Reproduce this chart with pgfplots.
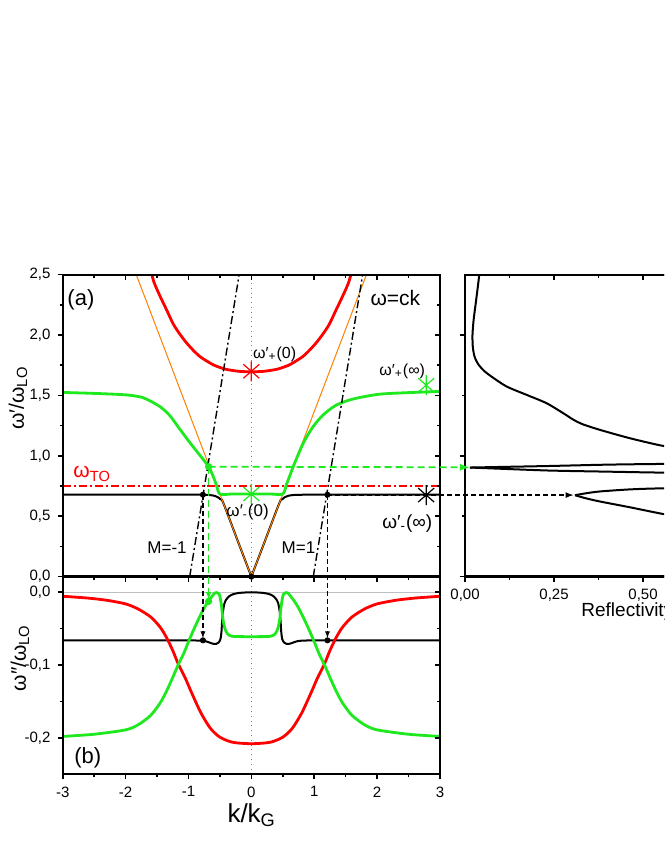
\documentclass[border=0pt]{standalone}
\usepackage{fontspec}
\setmainfont{Liberation Sans}
\usepackage{pgfplots}
\pgfplotsset{compat=1.18}
\usetikzlibrary{arrows.meta}

\definecolor{cred}{RGB}{255,0,0}
\definecolor{cgreen}{RGB}{30,232,30}
\definecolor{corange}{RGB}{255,128,0}

% origin-like star: vertical bar + x
\pgfdeclareplotmark{ostar}{%
  \pgfpathmoveto{\pgfqpoint{0pt}{\pgfplotmarksize}}%
  \pgfpathlineto{\pgfqpoint{0pt}{-\pgfplotmarksize}}%
  \pgfpathmoveto{\pgfqpoint{-0.8\pgfplotmarksize}{-0.7\pgfplotmarksize}}%
  \pgfpathlineto{\pgfqpoint{0.8\pgfplotmarksize}{0.7\pgfplotmarksize}}%
  \pgfpathmoveto{\pgfqpoint{-0.8\pgfplotmarksize}{0.7\pgfplotmarksize}}%
  \pgfpathlineto{\pgfqpoint{0.8\pgfplotmarksize}{-0.7\pgfplotmarksize}}%
  \pgfusepathqstroke}

\pgfplotsset{
  every axis/.append style={scale only axis, anchor=south west, clip mode=individual,
    axis line style={line width=1.1pt},
    tick style={black, line width=0.8pt},
    major tick length=2.6pt, minor tick length=1.5pt,
    tick label style={font=\fontsize{7.5}{9}\selectfont,
      /pgf/number format/assume math mode=true}},
  lab/.style={tick align=outside, xtick pos=left, ytick pos=left},
  mir/.style={tick align=inside, xtick pos=right, ytick pos=right,
    xticklabels={}, yticklabels={}},
  comma1/.style={yticklabel style={/pgf/number format/.cd, fixed, fixed zerofill,
    precision=1, use comma}},
  sm/.style={smooth, tension=0.45},
  pA/.style={at={(31.35pt,141.7pt)}, width=188.65pt, height=150.95pt,
    xmin=-3, xmax=3, ymin=0, ymax=2.5,
    xtick={-3,-2,-1,0,1,2,3}, minor x tick num=1,
    ytick={0,0.5,1,1.5,2,2.5}, minor y tick num=1},
  pB/.style={at={(31.35pt,42.85pt)}, width=188.65pt, height=98.85pt,
    xmin=-3, xmax=3, ymin=-0.25, ymax=0.0215,
    xtick={-3,-2,-1,0,1,2,3}, minor x tick num=1,
    ytick={-0.2,-0.1,0}, minor y tick num=1},
  pR/.style={at={(232.5pt,141.7pt)}, width=178pt, height=150.95pt,
    xmin=0, xmax=1, ymin=0, ymax=2.5,
    xtick={0,0.25,0.5,0.75,1}, minor x tick num=1,
    ytick={0,1,2}, minor y tick num=1, yticklabels={}},
}

\begin{document}
\begin{tikzpicture}
\useasboundingbox (0,0) rectangle (332pt,430pt);
\clip (0,0) rectangle (332pt,430pt);

% ---------------- panel (a): real part ----------------
\begin{axis}[pA, lab, comma1, xticklabels={}]
  \addplot[gray, dotted, line width=0.4pt] coordinates {(0,0) (0,2.5)};
  \addplot[cred, line width=0.7pt, dash pattern=on 4pt off 1.5pt on 1pt off 1.5pt]
    coordinates {(-3,0.75) (3,0.75)};
  % lower branch (two halves, sharp at k=0)
  \addplot[black, line width=1pt, sm] coordinates {
    (-3,0.678) (-1.5,0.678) (-0.9,0.678) (-0.72,0.677) (-0.64,0.674) (-0.58,0.668)
    (-0.53,0.657) (-0.49,0.64) (-0.45,0.615) (-0.2,0.273) (0,0)};
  \addplot[black, line width=1pt, sm] coordinates {
    (0,0) (0.2,0.273) (0.45,0.615) (0.49,0.64)
    (0.53,0.657) (0.58,0.668) (0.64,0.674) (0.72,0.677) (0.9,0.678) (1.5,0.678) (3,0.678)};
  % light line
  \addplot[corange, line width=0.5pt] coordinates {(-1.83,2.5) (0,0) (1.83,2.5)};
  % middle branch
  \addplot[cgreen, line width=1.4pt, sm] coordinates {
    (-3,1.525) (-2.5,1.517) (-2.0,1.505) (-1.72,1.481) (-1.46,1.41) (-1.3,1.335)
    (-1.15,1.23) (-1.0,1.125) (-0.88,1.045) (-0.78,0.98) (-0.68,0.91) (-0.62,0.847)
    (-0.56,0.765) (-0.5,0.684) (-0.3,0.684) (0,0.684) (0.3,0.684) (0.5,0.684) (0.56,0.765)
    (0.62,0.847) (0.662,0.905)
    (0.74,1.005) (0.821,1.10) (0.90,1.175) (0.98,1.24) (1.06,1.293) (1.14,1.338)
    (1.25,1.385) (1.35,1.42) (1.5,1.452) (1.67,1.477) (1.9,1.50) (2.09,1.513)
    (2.52,1.524) (3.0,1.533)};
  % upper branch
  \addplot[cred, line width=1.4pt, sm] coordinates {
    (-1.62,2.58) (-1.55,2.44) (-1.45,2.32) (-1.34,2.20) (-1.24,2.09) (-1.14,2.01)
    (-1.03,1.935) (-0.92,1.872) (-0.82,1.823) (-0.70,1.782) (-0.60,1.752) (-0.50,1.732)
    (-0.40,1.716) (-0.20,1.700) (0,1.696) (0.20,1.700) (0.40,1.716) (0.50,1.732)
    (0.60,1.752) (0.70,1.782) (0.82,1.823) (0.92,1.872) (1.03,1.935) (1.14,2.01)
    (1.24,2.09) (1.34,2.20) (1.45,2.32) (1.55,2.44) (1.62,2.58)};
  % Bragg-shifted light lines
  \addplot[black, line width=0.7pt, dash pattern=on 4pt off 1.5pt on 1pt off 1.5pt]
    coordinates {(-0.98,0) (-0.194,2.5)};
  \addplot[black, line width=0.7pt, dash pattern=on 4pt off 1.5pt on 1pt off 1.5pt]
    coordinates {(0.985,0) (1.77,2.5)};
  % limiting frequencies
  \addplot[cred, only marks, mark=ostar, mark size=5pt, line width=0.6pt] coordinates {(0,1.70)};
  \addplot[cgreen, only marks, mark=ostar, mark size=5pt, line width=0.6pt] coordinates {(2.78,1.585) (0,0.684)};
  \addplot[black, only marks, mark=ostar, mark size=5pt, line width=0.6pt] coordinates {(2.78,0.675)};
  % points
  \addplot[black, only marks, mark=*, mark size=1.3pt] coordinates {(-0.77,0.678) (1.21,0.678) (0,0)};
  \addplot[cgreen, only marks, mark=*, mark size=1.6pt] coordinates {(-0.68,0.91)};
  \coordinate (gA) at (axis cs:-0.68,0.91);
  \coordinate (bAL) at (axis cs:-0.77,0.678);
  \coordinate (bAR) at (axis cs:1.21,0.675);
  \node[font=\fontsize{11}{12}\selectfont] at (axis cs:-2.71,2.29) {(a)};
  \node[font=\fontsize{10.5}{12}\selectfont] at (axis cs:2.29,2.31) {ω=ck};
  \node[cred, font=\fontsize{10.5}{12}\selectfont] at (axis cs:-2.53,0.85) {ω\textsubscript{TO}};
  \node[font=\fontsize{8}{9}\selectfont] at (axis cs:0.37,1.84) {ω′\textsubscript{+}(0)};
  \node[font=\fontsize{8}{9}\selectfont] at (axis cs:2.40,1.70) {ω′\textsubscript{+}(∞)};
  \node[font=\fontsize{8.5}{9}\selectfont] at (axis cs:-0.06,0.535) {ω′\textsubscript{-}(0)};
  \node[font=\fontsize{9.5}{10}\selectfont] at (axis cs:2.48,0.435) {ω′\textsubscript{-}(∞)};
  \node[font=\fontsize{8.5}{9}\selectfont] at (axis cs:-1.34,0.236) {M=-1};
  \node[font=\fontsize{8.5}{9}\selectfont] at (axis cs:0.75,0.236) {M=1};
\end{axis}
\begin{axis}[pA, mir]
\end{axis}

% ---------------- panel (b): imaginary part ----------------
\begin{axis}[pB, lab, comma1]
  \addplot[gray, dotted, line width=0.4pt] coordinates {(0,-0.25) (0,0.0215)};
  \addplot[gray!50, line width=0.6pt] coordinates {(-3,0) (3,0)};
  \addplot[black, line width=1pt, sm] coordinates {
    (-3,-0.066) (-1.2,-0.066) (-0.8,-0.0665) (-0.7,-0.068) (-0.62,-0.0705) (-0.56,-0.071)
    (-0.52,-0.069) (-0.49,-0.064) (-0.475,-0.054) (-0.465,-0.040) (-0.45,-0.026)
    (-0.43,-0.016) (-0.40,-0.010) (-0.36,-0.006) (-0.3,-0.003) (-0.2,-0.001) (0,0)
    (0.2,-0.001) (0.3,-0.003) (0.36,-0.006) (0.40,-0.010) (0.43,-0.016) (0.45,-0.026)
    (0.465,-0.040) (0.475,-0.054) (0.49,-0.064) (0.52,-0.069) (0.56,-0.071)
    (0.62,-0.0705) (0.7,-0.068) (0.8,-0.0665) (1.2,-0.066) (3,-0.066)};
  \addplot[cred, line width=1.4pt, sm] coordinates {
    (-3.0,-0.0055) (-2.6,-0.008) (-2.3,-0.011) (-2.0,-0.016) (-1.8,-0.023) (-1.6,-0.034)
    (-1.45,-0.048) (-1.35,-0.062) (-1.25,-0.080) (-1.16,-0.099) (-1.05,-0.118)
    (-0.95,-0.138) (-0.8,-0.166) (-0.65,-0.187) (-0.5,-0.199) (-0.3,-0.206) (0,-0.208)
    (0.3,-0.206) (0.5,-0.199) (0.65,-0.187) (0.8,-0.166) (0.95,-0.138) (1.05,-0.118)
    (1.16,-0.099) (1.25,-0.080) (1.35,-0.062) (1.45,-0.048) (1.6,-0.034) (1.8,-0.023)
    (2.0,-0.016) (2.3,-0.011) (2.6,-0.008) (3.0,-0.0055)};
  \addplot[cgreen, line width=1.4pt, sm] coordinates {
    (-3.0,-0.198) (-2.5,-0.195) (-2.0,-0.189) (-1.8,-0.182) (-1.6,-0.169) (-1.45,-0.152)
    (-1.35,-0.136) (-1.25,-0.117) (-1.16,-0.099) (-1.08,-0.085) (-1.0,-0.068)
    (-0.92,-0.052) (-0.84,-0.037) (-0.76,-0.023) (-0.69,-0.013) (-0.62,-0.005)
    (-0.58,-0.001) (-0.55,-0.0005) (-0.51,-0.003) (-0.49,-0.010) (-0.47,-0.022)
    (-0.45,-0.038) (-0.42,-0.050) (-0.38,-0.057) (-0.30,-0.0605) (0,-0.061)
    (0.30,-0.0605) (0.38,-0.057) (0.42,-0.050) (0.45,-0.038) (0.47,-0.022)
    (0.49,-0.010) (0.51,-0.003) (0.55,-0.0005) (0.58,-0.001) (0.62,-0.005)
    (0.69,-0.013) (0.76,-0.023) (0.84,-0.037) (0.92,-0.052) (1.0,-0.068)
    (1.08,-0.085) (1.16,-0.099) (1.25,-0.117) (1.35,-0.136) (1.45,-0.152)
    (1.6,-0.169) (1.8,-0.182) (2.0,-0.189) (2.5,-0.195) (3.0,-0.198)};
  \addplot[black, only marks, mark=*, mark size=1.3pt] coordinates {(-0.77,-0.066) (1.21,-0.066)};
  \addplot[cgreen, only marks, mark=*, mark size=1.6pt] coordinates {(-0.68,-0.0125)};
  \coordinate (gB) at (axis cs:-0.68,-0.0125);
  \coordinate (bBL) at (axis cs:-0.77,-0.066);
  \coordinate (bBR) at (axis cs:1.21,-0.066);
  \node[font=\fontsize{11}{12}\selectfont] at (axis cs:-2.60,-0.227) {(b)};
\end{axis}
\begin{axis}[pB, mir]
\end{axis}

% ---------------- reflectivity ----------------
\begin{axis}[pR, lab,
  xticklabel style={/pgf/number format/.cd, fixed, fixed zerofill, precision=2, use comma}]
  \addplot[black, line width=1pt, sm] coordinates {
    (0.041,2.55) (0.040,2.50) (0.036,2.40) (0.030,2.26) (0.024,2.12) (0.021,2.00)
    (0.022,1.90) (0.027,1.82) (0.038,1.755) (0.055,1.70) (0.075,1.655) (0.117,1.574)
    (0.173,1.505) (0.229,1.436) (0.276,1.353) (0.304,1.30) (0.330,1.262) (0.379,1.215)
    (0.463,1.146) (0.557,1.082) (0.65,1.045) (0.75,1.015) (0.85,0.99) (0.92,0.97)
    (0.95,0.95) (0.80,0.938) (0.557,0.933) (0.40,0.927) (0.239,0.916) (0.10,0.908)
    (0.014,0.903)};
  \addplot[black, line width=1pt, sm] coordinates {
    (0.014,0.903) (0.10,0.893) (0.239,0.878) (0.40,0.869) (0.557,0.861) (0.80,0.855)
    (0.95,0.85) (0.97,0.80) (0.95,0.76) (0.80,0.74) (0.557,0.731) (0.463,0.722)
    (0.379,0.705) (0.34,0.69) (0.309,0.674)};
  \addplot[black, line width=1pt, sm] coordinates {
    (0.309,0.674) (0.34,0.648) (0.379,0.622) (0.463,0.574)
    (0.557,0.518) (0.65,0.47) (0.75,0.43) (0.85,0.40)};
  \coordinate (gR) at (axis cs:0.014,0.905);
  \coordinate (bR) at (axis cs:0.305,0.675);
\end{axis}
\begin{axis}[pR, mir]
\end{axis}

% arrows linking the panels
\draw[cgreen, line width=0.9pt, dash pattern=on 3.5pt off 2pt,
  -{Latex[length=5pt,width=3.5pt]}] (gA) -- (gR);
\draw[cgreen, line width=0.9pt, dash pattern=on 3.5pt off 2pt,
  -{Latex[length=4pt,width=3pt]}, shorten >=0.8pt] (gA) -- (gB);
\draw[black, line width=0.6pt, dash pattern=on 2.5pt off 1.5pt,
  -{Latex[length=3.5pt,width=2.6pt]}, shorten >=1pt] (bAL) -- (bBL);
\draw[black, line width=0.6pt, dash pattern=on 2.5pt off 1.5pt,
  -{Latex[length=3.5pt,width=2.6pt]}, shorten >=1pt] (bAR) -- (bBR);
\draw[black, line width=0.6pt, dash pattern=on 2.5pt off 1.5pt,
  -{Latex[length=4pt,width=3pt]}] (bAR) -- (bR);

% axis titles
\node[rotate=90, font=\fontsize{10.5}{12}\selectfont] at (9pt,231pt) {ω′/ω\textsubscript{LO}};
\node[rotate=90, font=\fontsize{10.5}{12}\selectfont] at (10pt,101pt) {ω″/ω\textsubscript{LO}};
\node[font=\fontsize{13}{14}\selectfont] at (125.85pt,22.5pt) {k/k\textsubscript{G}};
\node[anchor=west, inner sep=0pt, font=\fontsize{9.5}{11}\selectfont] at (290.5pt,124pt) {Reflectivity};
\end{tikzpicture}
\end{document}
